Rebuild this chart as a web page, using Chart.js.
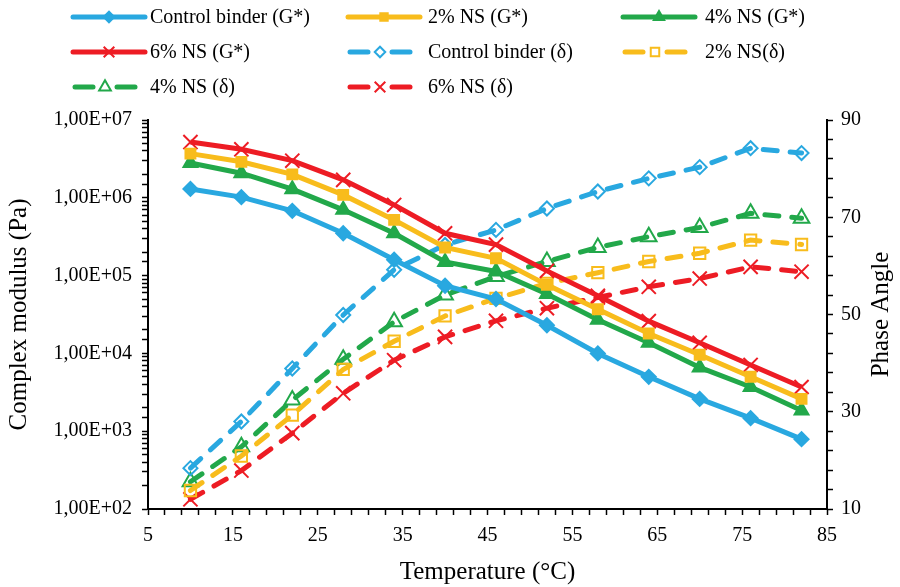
<!DOCTYPE html>
<html>
<head>
<meta charset="utf-8">
<script src="https://cdn.jsdelivr.net/npm/chart.js@4/dist/chart.umd.min.js"></script>
<style>
  html,body{margin:0;padding:0;background:#fff;}
  #wrap{width:900px;height:587px;}
</style>
</head>
<body>
<div id="wrap"><canvas id="grafico" width="900" height="587"></canvas></div>
<script>
// dados
const temperaturas = [10,16,22,28,34,40,46,52,58,64,70,76,82];

const gControl = [1.3e6,1.02e6,6.8e5,3.5e5,1.6e5,7.4e4,5.0e4,2.3e4,1.0e4,5.0e3,2.6e3,1.47e3,790];
const g2NS     = [3.7e6,2.9e6,2.0e6,1.09e6,5.2e5,2.3e5,1.67e5,7.6e4,3.7e4,1.8e4,9.6e3,5.0e3,2.6e3];
const g4NS     = [2.8e6,2.07e6,1.29e6,7.0e5,3.5e5,1.5e5,1.13e5,5.8e4,2.7e4,1.37e4,6.6e3,3.7e3,1.84e3];
const g6NS     = [5.2e6,4.2e6,3.0e6,1.7e6,8.1e5,3.5e5,2.5e5,1.15e5,5.5e4,2.6e4,1.37e4,7.1e3,3.7e3];

const dControl = [18.4,28.0,38.9,49.9,59.2,64.3,67.4,71.8,75.3,78.0,80.3,84.2,83.2];
const d2NS     = [13.8,20.9,29.3,38.7,44.5,49.7,53.3,56.4,58.6,60.9,62.6,65.3,64.4];
const d4NS     = [15.6,22.8,32.4,40.8,48.5,54.0,57.8,60.9,63.8,66.0,67.9,70.8,69.8];
const d6NS     = [12.0,17.9,25.6,33.8,40.6,45.4,48.7,51.3,53.5,55.7,57.4,59.8,58.8];

const xMajorTicks = [5,15,25,35,45,55,65,75,85];
const y1MajorTicks = [10,30,50,70,90];
const nomes = ['Control binder (G*)','2% NS (G*)','4% NS (G*)','6% NS (G*)',
               'Control binder (δ)','2% NS(δ)','4% NS (δ)','6% NS (δ)'];
const tituloDireita = 'Phase Angle';

const AZUL='#29A8E0', AMARELO='#F8BC1C', VERDE='#22A84A', VERMELHO='#ED1C24';
const FONTE='"Liberation Serif", "Times New Roman", serif';

function pares(vals){ return vals.map((v,i)=>({x:temperaturas[i],y:v})); }

function serieG(label,vals,cor,estilo,raio){
  return {label,data:pares(vals),yAxisID:'y',borderColor:cor,backgroundColor:cor,
    borderWidth:5,pointStyle:estilo,pointRadius:raio,pointBorderWidth:2,
    pointBorderColor:cor,pointBackgroundColor:cor,tension:0,dashed:false};
}
function serieD(label,vals,cor,estilo,raio){
  return {label,data:pares(vals),yAxisID:'y1',borderColor:cor,backgroundColor:cor,
    borderWidth:5,borderDash:[14,13],borderCapStyle:'round',pointStyle:estilo,pointRadius:raio,
    pointBorderWidth:2,pointBorderColor:cor,pointBackgroundColor:'rgba(0,0,0,0)',tension:0,dashed:true,hollow:estilo!=='crossRot'};
}

const datasets = [
  serieG(nomes[0],gControl,AZUL,'rectRot',7),
  serieG(nomes[1],g2NS,AMARELO,'rect',7),
  serieG(nomes[2],g4NS,VERDE,'triangle',8),
  serieG(nomes[3],g6NS,VERMELHO,'crossRot',10),
  serieD(nomes[4],dControl,AZUL,'rectRot',7),
  serieD(nomes[5],d2NS,AMARELO,'rect',8),
  serieD(nomes[6],d4NS,VERDE,'triangle',9),
  serieD(nomes[7],d6NS,VERMELHO,'crossRot',10)
];

// legenda em grade 3 colunas, desenhada no canvas
const legendaX = [73,348,623];
const legendaTextoX = [150,428,705];
const legendaY = [17,52,87];
const legendaGrade = {
  id:'legendaGrade',
  afterDraw(chart){
    const ctx=chart.ctx;
    chart.data.datasets.forEach((ds,i)=>{
      const row=Math.floor(i/3), col=i%3;
      const x0=legendaX[col], y=legendaY[row];
      ctx.save();
      ctx.strokeStyle=ds.borderColor; ctx.lineWidth=5; ctx.lineCap='round';
      let mx;
      if(!ds.dashed){
        ctx.beginPath(); ctx.moveTo(x0,y); ctx.lineTo(x0+72,y); ctx.stroke();
        mx=x0+36;
      }else{
        ctx.beginPath(); ctx.moveTo(x0+2,y); ctx.lineTo(x0+20,y); ctx.stroke();
        ctx.beginPath(); ctx.moveTo(x0+44,y); ctx.lineTo(x0+62,y); ctx.stroke();
        mx=x0+32;
      }
      ctx.lineWidth=2; ctx.lineCap='butt';
      ctx.fillStyle=ds.hollow?'#fff':ds.borderColor;
      ctx.strokeStyle=ds.borderColor;
      Chart.helpers.drawPoint(ctx,{pointStyle:ds.pointStyle,radius:ds.pointRadius*0.75,rotation:0,borderWidth:2},mx,y);
      ctx.fillStyle='#000'; ctx.font='20px '+FONTE; ctx.textBaseline='middle'; ctx.textAlign='left';
      ctx.fillText(ds.label,legendaTextoX[col],y+1);
      ctx.restore();
    });
    // titulo do eixo direito, lido de baixo para cima como no original
    const area=chart.chartArea;
    ctx.save();
    ctx.translate(881,(area.top+area.bottom)/2);
    ctx.rotate(-Math.PI/2);
    ctx.fillStyle='#000'; ctx.font='25px '+FONTE; ctx.textAlign='center'; ctx.textBaseline='middle';
    ctx.fillText(tituloDireita,0,0);
    ctx.restore();
  }
};

function formatoE(v){
  const e=Math.log10(v);
  if(Math.abs(e-Math.round(e))>1e-9) return '';
  const n=Math.round(e);
  return '1,00E+'+(n<10?'0':'')+n;
}

const eixoComum = {
  grid:{drawOnChartArea:false,drawTicks:true,tickLength:6,tickColor:'#000',tickWidth:1.5},
  border:{color:'#000',width:2}
};

new Chart(document.getElementById('grafico').getContext('2d'),{
  type:'line',
  data:{datasets},
  plugins:[legendaGrade],
  options:{
    responsive:false,animation:false,events:[],
    layout:{padding:{top:120,left:0,right:0,bottom:0}},
    plugins:{legend:{display:false},tooltip:{enabled:false}},
    scales:{
      x:{
        type:'linear',min:5,max:85,...eixoComum,
        afterBuildTicks:s=>{ const t=[]; for(let v=5;v<=85;v+=2) t.push({value:v}); s.ticks=t; },
        afterFit:s=>{ s.height=78; },
        ticks:{autoSkip:false,maxRotation:0,padding:9,color:'#000',font:{family:FONTE,size:20},
          callback:v=>xMajorTicks.includes(v)?String(v):''},
        title:{display:true,text:'Temperature (°C)',color:'#000',font:{family:FONTE,size:25},padding:{top:0,bottom:0}}
      },
      y:{
        type:'logarithmic',position:'left',min:100,max:1e7,...eixoComum,
        afterFit:s=>{ s.width=148; },
        ticks:{autoSkip:false,padding:10,color:'#000',font:{family:FONTE,size:20},callback:v=>formatoE(v)},
        title:{display:true,text:'Complex modulus (Pa)',color:'#000',font:{family:FONTE,size:25},padding:{top:4,bottom:0}}
      },
      y1:{
        type:'linear',position:'right',min:10,max:90,...eixoComum,
        afterBuildTicks:s=>{ const t=[]; for(let v=10;v<=90;v+=4) t.push({value:v}); s.ticks=t; },
        afterFit:s=>{ s.width=73; },
        ticks:{autoSkip:false,padding:8,color:'#000',font:{family:FONTE,size:20},
          callback:v=>y1MajorTicks.includes(v)?String(v):''},
        title:{display:false}
      }
    }
  }
});
</script>
</body>
</html>
